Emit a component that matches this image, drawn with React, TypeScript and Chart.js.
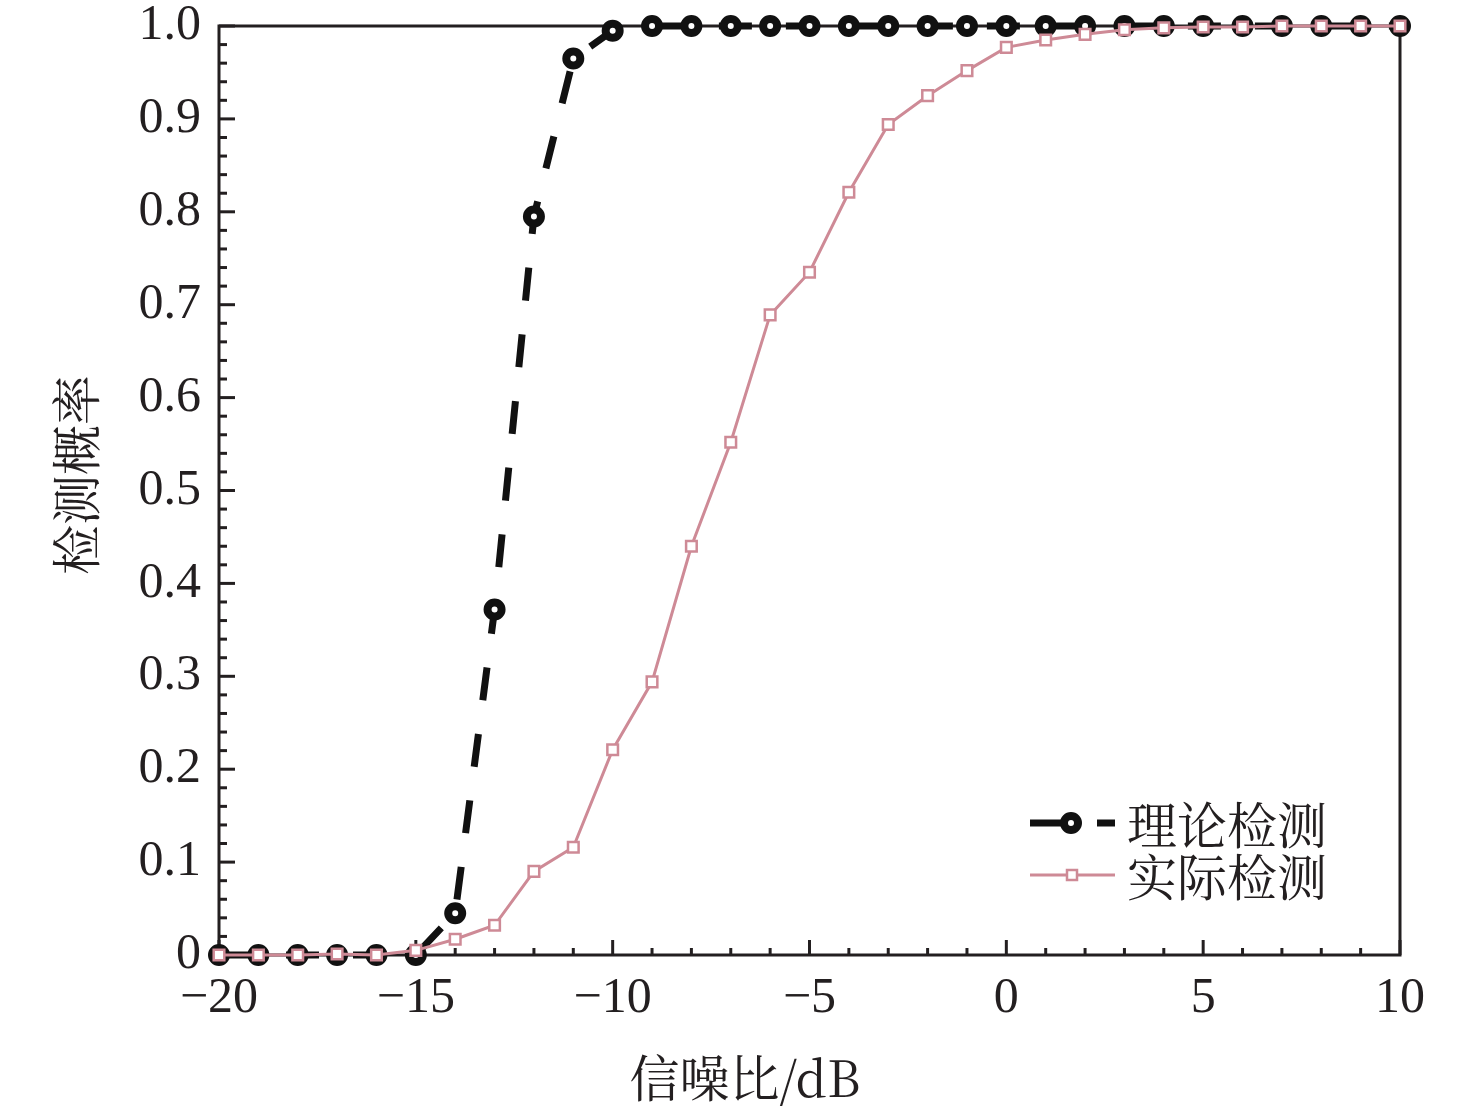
import React, { useEffect, useRef } from "react";
import { Chart, registerables } from "chart.js";

Chart.register(...registerables);

const snr = [-20, -19, -18, -17, -16, -15, -14, -13, -12, -11, -10, -9, -8, -7, -6, -5, -4, -3, -2, -1, 0, 1, 2, 3, 4, 5, 6, 7, 8, 9, 10];
const theoryValues = [0, 0, 0, 0, 0, 0, 0.045, 0.372, 0.795, 0.965, 0.995, 1, 1, 1, 1, 1, 1, 1, 1, 1, 1, 1, 1, 1, 1, 1, 1, 1, 1, 1, 1];
const actualValues = [0, 0, 0, 0.001, 0, 0.005, 0.017, 0.032, 0.09, 0.116, 0.221, 0.294, 0.44, 0.552, 0.689, 0.735, 0.821, 0.894, 0.925, 0.952, 0.977, 0.985, 0.991, 0.996, 0.998, 0.999, 0.999, 1, 1, 1, 1];
const seriesNames = ["理论检测", "实际检测"];
const xTitle = "信噪比/dB";
const yTitle = "检测概率";
const xTickValues = [-20, -15, -10, -5, 0, 5, 10];
const yTickValues = [0, 0.1, 0.2, 0.3, 0.4, 0.5, 0.6, 0.7, 0.8, 0.9, 1.0];

const INK = "#231f20";
const PINK = "rgb(206,138,150)";
const SERIF = "'Liberation Serif', 'Times New Roman', 'Noto Sans CJK SC', serif";
const CJK = "'Noto Serif CJK SC', 'Noto Sans CJK SC', 'Liberation Serif', serif";

const framePlugin = {
  id: "frameTicks",
  beforeDatasetsDraw(chart: any) {
    const { ctx, chartArea } = chart;
    const xs = chart.scales.x;
    const ys = chart.scales.y;
    ctx.save();
    ctx.strokeStyle = INK;
    ctx.lineWidth = 3;
    ctx.strokeRect(chartArea.left, chartArea.top, chartArea.right - chartArea.left, chartArea.bottom - chartArea.top);
    for (let i = 0; i <= 50; i++) {
      const v = i / 50;
      const py = ys.getPixelForValue(v);
      const len = i % 5 === 0 ? 16 : 8;
      ctx.beginPath();
      ctx.moveTo(chartArea.left, py);
      ctx.lineTo(chartArea.left + len, py);
      ctx.stroke();
    }
    for (let v = -20; v <= 10; v++) {
      const px = xs.getPixelForValue(v);
      const len = v % 5 === 0 ? 15 : 7;
      ctx.beginPath();
      ctx.moveTo(px, chartArea.bottom);
      ctx.lineTo(px, chartArea.bottom - len);
      ctx.stroke();
    }
    // axis titles
    ctx.fillStyle = INK;
    ctx.font = `50px ${CJK}`;
    ctx.textAlign = "center";
    ctx.textBaseline = "middle";
    ctx.fillText(xTitle, 745, 1078);
    ctx.translate(76, 475);
    ctx.rotate(-Math.PI / 2);
    ctx.fillText(yTitle, 0, 0);
    ctx.restore();
  },
  afterDraw(chart: any) {
    const { ctx } = chart;
    ctx.save();
    const y1 = 823;
    const y2 = 875;
    ctx.strokeStyle = "#111";
    ctx.lineWidth = 7;
    ctx.setLineDash([33, 34]);
    ctx.beginPath();
    ctx.moveTo(1030, y1);
    ctx.lineTo(1115, y1);
    ctx.stroke();
    ctx.setLineDash([]);
    ctx.lineWidth = 8;
    ctx.beginPath();
    ctx.arc(1071, y1, 7, 0, Math.PI * 2);
    ctx.fillStyle = "#fff";
    ctx.fill();
    ctx.stroke();
    ctx.strokeStyle = PINK;
    ctx.lineWidth = 3;
    ctx.beginPath();
    ctx.moveTo(1030, y2);
    ctx.lineTo(1115, y2);
    ctx.stroke();
    ctx.lineWidth = 2.5;
    ctx.fillStyle = "#fff";
    ctx.fillRect(1067, y2 - 5, 10, 10);
    ctx.strokeRect(1067, y2 - 5, 10, 10);
    ctx.fillStyle = INK;
    ctx.font = `50px ${CJK}`;
    ctx.textAlign = "left";
    ctx.textBaseline = "middle";
    ctx.fillText(seriesNames[0], 1127, y1 + 2);
    ctx.fillText(seriesNames[1], 1127, y2 + 2);
    ctx.restore();
  },
};

export default function App() {
  const ref = useRef<HTMLCanvasElement | null>(null);
  useEffect(() => {
    if (!ref.current) return;
    const chart = new Chart(ref.current, {
      type: "line",
      data: {
        labels: snr,
        datasets: [
          {
            label: seriesNames[1],
            data: snr.map((x, i) => ({ x, y: actualValues[i] })),
            borderColor: PINK,
            borderWidth: 3,
            pointStyle: "rect",
            pointRadius: 7.5,
            pointBorderWidth: 2.5,
            pointBorderColor: PINK,
            pointBackgroundColor: "#fff",
            tension: 0,
            clip: false as any,
            order: 0,
          },
          {
            label: seriesNames[0],
            data: snr.map((x, i) => ({ x, y: theoryValues[i] })),
            borderColor: "#111",
            borderWidth: 7,
            borderDash: [33, 34],
            pointStyle: "circle",
            pointRadius: 7,
            pointBorderWidth: 8,
            pointBorderColor: "#111",
            pointBackgroundColor: "#fff",
            tension: 0,
            clip: false as any,
            order: 1,
          },
        ],
      },
      options: {
        animation: false,
        responsive: false,
        devicePixelRatio: 1,
        layout: { padding: { top: 26, right: 76, left: 0, bottom: 0 } },
        plugins: { legend: { display: false }, tooltip: { enabled: false } },
        scales: {
          x: {
            type: "linear",
            min: -20,
            max: 10,
            afterBuildTicks: (s: any) => {
              s.ticks = xTickValues.map((v) => ({ value: v }));
            },
            afterFit: (s: any) => {
              s.height = 158;
              s.paddingLeft = 0;
              s.paddingRight = 0;
            },
            grid: { display: false, drawTicks: false },
            border: { display: false },
            ticks: {
              color: INK,
              font: { family: SERIF, size: 50, lineHeight: 1 },
              padding: 19,
              maxRotation: 0,
              callback: (v: any) => (v < 0 ? "\u2212" + Math.abs(v) : String(v)),
            },
          },
          y: {
            type: "linear",
            min: 0,
            max: 1,
            afterBuildTicks: (s: any) => {
              s.ticks = yTickValues.map((v) => ({ value: v }));
            },
            afterFit: (s: any) => {
              s.width = 219;
              s.paddingTop = 0;
              s.paddingBottom = 0;
            },
            grid: { display: false, drawTicks: false },
            border: { display: false },
            ticks: {
              color: INK,
              font: { family: SERIF, size: 50, lineHeight: 1 },
              padding: 18,
              callback: (v: any) => (v === 0 ? "0" : Number(v).toFixed(1)),
            },
          },
        },
      },
      plugins: [framePlugin],
    } as any);
    return () => chart.destroy();
  }, []);
  return (
    <div style={{ position: "absolute", left: 0, top: 0, width: 1476, height: 1113, background: "#fff" }}>
      <canvas ref={ref} width={1476} height={1113} style={{ width: 1476, height: 1113, display: "block" }} />
    </div>
  );
}
